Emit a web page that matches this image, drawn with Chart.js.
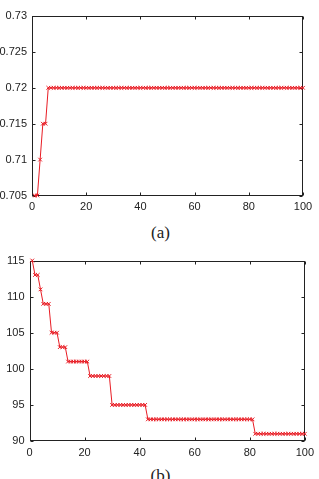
<!DOCTYPE html>
<html>
<head>
<meta charset="utf-8">
<script src="https://cdn.jsdelivr.net/npm/chart.js@4/dist/chart.umd.min.js"></script>
<style>
  html, body { margin: 0; padding: 0; background: #fff; }
  body { width: 319px; height: 479px; position: relative; overflow: hidden; }
  .panel { position: absolute; left: 0; width: 319px; }
  .caption {
    position: absolute; left: 1px; width: 319px; text-align: center;
    font-family: "Liberation Serif", serif; font-size: 17px; color: #222;
  }
</style>
</head>
<body>
<div class="panel" style="top:0;height:215px"><canvas id="chartA" width="319" height="215"></canvas></div>
<div class="caption" style="top:223px">(a)</div>
<div class="panel" style="top:240px;height:222px"><canvas id="chartB" width="319" height="222"></canvas></div>
<div class="caption" style="top:466px">(b)</div>

<script>
// iteration index on the x axis
const iterations = Array.from({ length: 100 }, (_, i) => i + 1);

// (a) series
const seriesA = [
    0.705, 0.705, 0.71, 0.715, 0.715, 0.72, 0.72, 0.72, 0.72, 0.72,
    0.72, 0.72, 0.72, 0.72, 0.72, 0.72, 0.72, 0.72, 0.72, 0.72,
    0.72, 0.72, 0.72, 0.72, 0.72, 0.72, 0.72, 0.72, 0.72, 0.72,
    0.72, 0.72, 0.72, 0.72, 0.72, 0.72, 0.72, 0.72, 0.72, 0.72,
    0.72, 0.72, 0.72, 0.72, 0.72, 0.72, 0.72, 0.72, 0.72, 0.72,
    0.72, 0.72, 0.72, 0.72, 0.72, 0.72, 0.72, 0.72, 0.72, 0.72,
    0.72, 0.72, 0.72, 0.72, 0.72, 0.72, 0.72, 0.72, 0.72, 0.72,
    0.72, 0.72, 0.72, 0.72, 0.72, 0.72, 0.72, 0.72, 0.72, 0.72,
    0.72, 0.72, 0.72, 0.72, 0.72, 0.72, 0.72, 0.72, 0.72, 0.72,
    0.72, 0.72, 0.72, 0.72, 0.72, 0.72, 0.72, 0.72, 0.72, 0.72
];

// (b) series
const seriesB = [
    115, 113, 113, 111, 109, 109, 109, 105, 105, 105,
    103, 103, 103, 101, 101, 101, 101, 101, 101, 101,
    101, 99, 99, 99, 99, 99, 99, 99, 99, 95,
    95, 95, 95, 95, 95, 95, 95, 95, 95, 95,
    95, 95, 93, 93, 93, 93, 93, 93, 93, 93,
    93, 93, 93, 93, 93, 93, 93, 93, 93, 93,
    93, 93, 93, 93, 93, 93, 93, 93, 93, 93,
    93, 93, 93, 93, 93, 93, 93, 93, 93, 93,
    93, 91, 91, 91, 91, 91, 91, 91, 91, 91,
    91, 91, 91, 91, 91, 91, 91, 91, 91, 91
];

// tick values
const xTicks = [0, 20, 40, 60, 80, 100];
const yTicksA = [0.705, 0.71, 0.715, 0.72, 0.725, 0.73];
const yTicksB = [90, 95, 100, 105, 110, 115];

const red = "rgb(232,28,36)";
const ink = "#222";

// box round the plot with inward ticks on all four sides
const matlabBox = {
    id: "matlabBox",
    beforeDatasetsDraw(chart) {
        const { ctx, chartArea: a, scales } = chart;
        const L = Math.round(a.left) + 0.5, R = Math.round(a.right) - 0.5;
        const T = Math.round(a.top) + 0.5, B = Math.round(a.bottom) - 0.5;
        ctx.save();
        ctx.strokeStyle = ink;
        ctx.lineWidth = 1;
        ctx.strokeRect(L, T, R - L, B - T);
        ctx.beginPath();
        scales.x.ticks.forEach(t => {
            const px = Math.round(scales.x.getPixelForValue(t.value)) + 0.5;
            ctx.moveTo(px, B); ctx.lineTo(px, B - 3);
            ctx.moveTo(px, T); ctx.lineTo(px, T + 3);
        });
        scales.y.ticks.forEach(t => {
            const py = Math.round(scales.y.getPixelForValue(t.value)) + 0.5;
            ctx.moveTo(L, py); ctx.lineTo(L + 3, py);
            ctx.moveTo(R, py); ctx.lineTo(R - 3, py);
        });
        ctx.stroke();
        ctx.restore();
    }
};

function makePanel(canvas, values, yTicks, yMin, yMax, box) {
    const tickFont = { family: "Liberation Sans", size: 11 };
    return new Chart(canvas, {
        type: "line",
        data: {
            datasets: [
                {
                    data: iterations.map((x, i) => ({ x: x, y: values[i] })),
                    borderColor: red,
                    borderWidth: 1,
                    pointStyle: "crossRot",
                    pointRadius: 2.6,
                    pointBorderColor: red,
                    pointBorderWidth: 1,
                    pointHoverRadius: 2.6,
                    tension: 0,
                    clip: false
                }
            ]
        },
        options: {
            responsive: false,
            animation: false,
            devicePixelRatio: 1,
            events: [],
            layout: {
                padding: { left: 0, top: box.top, right: box.right, bottom: 0 }
            },
            plugins: {
                legend: { display: false },
                tooltip: { enabled: false }
            },
            scales: {
                x: {
                    type: "linear",
                    min: 0,
                    max: 100,
                    afterBuildTicks: s => { s.ticks = xTicks.map(v => ({ value: v })); },
                    afterFit: s => { s.height = box.xHeight; },
                    grid: { display: false, drawTicks: false },
                    border: { display: false },
                    ticks: { color: ink, font: tickFont, padding: 5, maxRotation: 0 }
                },
                y: {
                    type: "linear",
                    min: yMin,
                    max: yMax,
                    afterBuildTicks: s => { s.ticks = yTicks.map(v => ({ value: v })); },
                    afterFit: s => { s.width = box.yWidth; },
                    grid: { display: false, drawTicks: false },
                    border: { display: false },
                    ticks: {
                        color: ink,
                        font: tickFont,
                        padding: 5,
                        callback: v => String(v)
                    }
                }
            }
        },
        plugins: [matlabBox]
    });
}

makePanel(document.getElementById("chartA"), seriesA, yTicksA, 0.705, 0.73,
    { top: 16, right: 16, xHeight: 19.5, yWidth: 32 });

makePanel(document.getElementById("chartB"), seriesB, yTicksB, 90, 115,
    { top: 20.5, right: 12, xHeight: 21, yWidth: 29.5 });
</script>
</body>
</html>
